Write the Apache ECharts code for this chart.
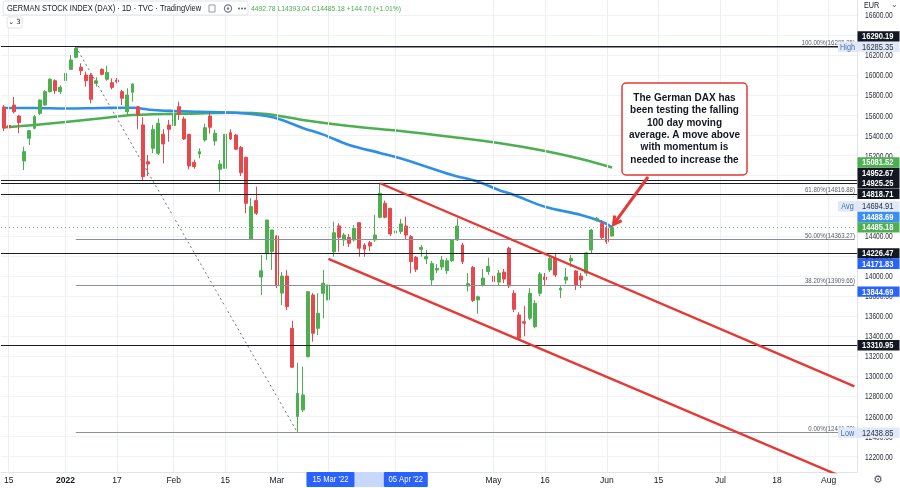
<!DOCTYPE html>
<html><head><meta charset="utf-8">
<script src="https://cdn.jsdelivr.net/npm/echarts@6/dist/echarts.min.js"></script>
<style>html,body{margin:0;padding:0;background:#fff}#c{width:900px;height:488px}</style>
</head><body><div id="c"></div>
<script>
// ---------------- DATA ----------------
const pastDates = [
'2021-12-14','2021-12-15','2021-12-16','2021-12-17','2021-12-20','2021-12-21','2021-12-22','2021-12-23','2021-12-27','2021-12-28','2021-12-29','2021-12-30',
'2022-01-03','2022-01-04','2022-01-05','2022-01-06','2022-01-07','2022-01-10','2022-01-11','2022-01-12','2022-01-13','2022-01-14','2022-01-17','2022-01-18','2022-01-19','2022-01-20','2022-01-21','2022-01-24','2022-01-25','2022-01-26','2022-01-27','2022-01-28','2022-01-31',
'2022-02-01','2022-02-02','2022-02-03','2022-02-04','2022-02-07','2022-02-08','2022-02-09','2022-02-10','2022-02-11','2022-02-14','2022-02-15','2022-02-16','2022-02-17','2022-02-18','2022-02-21','2022-02-22','2022-02-23','2022-02-24','2022-02-25','2022-02-28',
'2022-03-01','2022-03-02','2022-03-03','2022-03-04','2022-03-07','2022-03-08','2022-03-09','2022-03-10','2022-03-11','2022-03-14','2022-03-15','2022-03-16','2022-03-17','2022-03-18','2022-03-21','2022-03-22','2022-03-23','2022-03-24','2022-03-25','2022-03-28','2022-03-29','2022-03-30','2022-03-31',
'2022-04-01','2022-04-04','2022-04-05','2022-04-06','2022-04-07','2022-04-08','2022-04-11','2022-04-12','2022-04-13','2022-04-14','2022-04-19','2022-04-20','2022-04-21','2022-04-22','2022-04-25','2022-04-26','2022-04-27','2022-04-28','2022-04-29',
'2022-05-02','2022-05-03','2022-05-04','2022-05-05','2022-05-06','2022-05-09','2022-05-10','2022-05-11','2022-05-12','2022-05-13','2022-05-16','2022-05-17','2022-05-18','2022-05-19','2022-05-20','2022-05-23','2022-05-24','2022-05-25','2022-05-26','2022-05-27','2022-05-30','2022-05-31',
'2022-06-01','2022-06-02'];

// [open, high, low, close]
const candles = [
[15685,15705,15445,15475],[15500,15530,15455,15478],[15705,15785,15620,15638],[15595,15605,15425,15530],[15147,15290,15057,15240],[15373,15456,15306,15449],[15473,15605,15463,15589],[15622,15760,15605,15755],[15705,15855,15700,15838],[15838,15975,15830,15961],[15947,15961,15815,15848],[15838,15900,15815,15882],
[15947,16037,15945,16021],[16061,16203,16054,16154],[16180,16285.35,16170,16270],[16081,16120,16004,16047],[16004,16037,15887,15947],[16004,16021,15722,15762],[15921,15981,15888,15947],[16061,16070,16001,16011],[15961,16094,15947,16031],[15927,15971,15862,15881],[15954,15975,15920,15937],[15838,15855,15705,15772],[15638,15872,15605,15805],[15832,15921,15738,15914],[15688,15695,15463,15605],[15506,15582,14958,14990],[15140,15207,14997,15117],[15273,15506,15224,15462],[15224,15572,15207,15523],[15413,15463,15124,15316],[15506,15556,15339,15463],
[15500,15650,15480,15619],[15688,15738,15556,15615],[15565,15589,15356,15366],[15413,15416,15064,15097],[15134,15160,15070,15090],[15217,15273,15174,15240],[15356,15520,15339,15479],[15595,15620,15420,15483],[15346,15460,15300,15423],[15064,15157,14841,15117],[15074,15423,15057,15413],[15429,15463,15356,15366],[15406,15416,15257,15264],[15283,15297,14997,15030],[15184,15190,14626,14725],[14366,14778,14360,14692],[14752,14891,14609,14626],[13990,14210,13810,14052],[14227,14559,14160,14559],[14245,14459,14061,14459],
[14400,14410,13880,13901],[13830,14040,13710,14000],[14000,14060,13660,13695],[13479,13555,13085,13091],[12599,13137,12438.85,12832],[12665,13097,12645,12815],[13196,13848,13190,13844],[13811,13830,13346,13430],[13479,13828,13413,13629],[13828,14061,13579,13928],[13762,13960,13579,13911],[14243,14542,14193,14432],[14500,14526,14243,14385],[14360,14430,14300,14409],[14385,14420,14290,14326],[14360,14509,14343,14476],[14532,14532,14193,14277],[14310,14327,14193,14267],[14333,14350,14250,14300],[14360,14609,14340,14409],[14586,14925.25,14576,14825],[14725,14752,14576,14586],[14675,14680,14400,14420],
[14430,14530,14370,14450],[14445,14570,14420,14520],[14499,14592,14360,14409],[14393,14410,14027,14143],[14187,14200,14040,14067],[14266,14310,14193,14286],[14170,14260,14120,14193],[13961,14150,13910,14124],[14060,14120,14030,14076],[14090,14200,14060,14160],[14054,14180,14020,14153],[14153,14370,14140,14360],[14360,14576,14350,14499],[14310,14330,14120,14143],[13900,14030,13845,13924],[14087,14100,13740,13757],[13762,13805,13625,13793],[13911,14070,13895,13980],[14045,14183,14011,14095],
[14000,14011,13780,13945],[13940,14060,13900,14030],[14040,14070,13930,13970],[14277,14293,13880,13901],[13828,13860,13640,13669],[13612,13640,13360,13380],[13545,13700,13400,13530],[13580,13880,13560,13828],[13495,13760,13480,13729],[13828,14040,13800,14020],[13990,14030,13900,13964],[14061,14200,14040,14177],[14177,14220,13990,14011],[13861,13900,13780,13878],[13960,14080,13920,13990],[14150,14210,14090,14177],[14050,14060,13861,13911],[14000,14030,13880,13960],[14030,14240,14000,14231],[14260,14470,14230,14459],[14560,14590,14545,14575],[14526,14560,14370,14385],
[14480,14500,14320,14343],[14400,14492.78,14393.04,14485.18]];

const ma100Points = [['2021-12-14',15675],['2021-12-22',15675],['2022-01-03',15670],['2022-01-12',15675],['2022-01-20',15678],['2022-01-26',15655],['2022-02-01',15645],['2022-02-08',15638],['2022-02-17',15628],['2022-02-25',15595],['2022-03-02',15556],['2022-03-08',15476],['2022-03-14',15410],['2022-03-21',15306],['2022-03-29',15227],['2022-04-05',15157],['2022-04-20',15007],['2022-04-27',14941],['2022-05-03',14858],['2022-05-06',14808],['2022-05-16',14691],['2022-05-25',14609],['2022-05-31',14542],['2022-06-02',14488.69]];
const ma200Points = [['2021-12-14',15483],['2021-12-22',15506],['2022-01-12',15573],['2022-01-20',15605],['2022-02-08',15622],['2022-02-17',15628],['2022-02-25',15615],['2022-03-08',15556],['2022-03-21',15496],['2022-04-04',15446],['2022-04-20',15386],['2022-05-03',15326],['2022-05-16',15247],['2022-05-25',15167],['2022-06-02',15081.52]];

const horizontalLevels = [16290.19, 14952.67, 14925.25, 14818.71, 14226.47, 13310.95];
const fibStartDate = '2022-01-05';
const fibLevels = [['100.00%',16285.35],['61.80%',14816.88],['50.00%',14363.27],['38.20%',13909.66],['0.00%',12441.20]];
const fibTrend = [['2022-01-05',16285.35],['2022-03-07',12441.20]];
const upperChannel = [['2022-03-29',14925.25],['2022-08-08',12900]];
const lowerChannel = [['2022-03-15',14171.83],['2022-04-05',13844.69],['2022-08-08',11947]];
const lastPrice = 14485.18;
const arrowTarget = ['2022-06-02',14515];

const priceTicks = [12200,12400,12600,12800,13000,13200,13400,13600,13800,14000,14200,14400,14600,14800,15000,15200,15400,15600,15800,16000,16200,16400,16600];
const timeTicks = {'2021-12-15':'15','2022-01-03':'2022','2022-01-17':'17','2022-02-01':'Feb','2022-02-15':'15','2022-03-01':'Mar','2022-05-02':'May','2022-05-16':'16','2022-06-01':'Jun','2022-06-15':'15','2022-07-01':'Jul','2022-07-18':'18','2022-08-01':'Aug'};
const selectedTicks = [['2022-03-15',"15 Mar '22"],['2022-04-05',"05 Apr '22"]];
const gridDates = ['2021-12-15','2022-01-03','2022-01-17','2022-02-01','2022-02-15','2022-03-01','2022-03-15','2022-04-01','2022-05-02','2022-05-16','2022-06-01','2022-06-15','2022-07-01','2022-07-18','2022-08-01'];

// price-scale tags, in drawing priority order: [value, text, kind, side label]
const priceTags = [
 [14485.18,'14485.18','last',''],
 [16285.35,'16285.35','light','High'],
 [12438.85,'12438.85','light','Low'],
 [14694.91,'14694.91','light','Avg'],
 [14925.25,'14925.25','black',''],
 [14818.71,'14818.71','black',''],
 [14226.47,'14226.47','black',''],
 [13310.95,'13310.95','black',''],
 [16290.19,'16290.19','black',''],
 [14952.67,'14952.67','black',''],
 [15081.52,'15081.52','ma200',''],
 [14488.69,'14488.69','ma100',''],
 [14171.83,'14171.83','anchor',''],
 [13844.69,'13844.69','anchor','']];

const titleText = 'GERMAN STOCK INDEX (DAX) · 1D · TVC · TradingView';
const ohlcText = '4492.78 L14393.04 C14485.18 +144.70 (+1.01%)';
const noteLines = ['The German DAX has','been testing the falling','100 day moving','average. A move above','with momentum is','needed to increase the'];

// ---------------- BUILD ----------------
const futureDates = (function(){const out=[];const d=new Date(Date.UTC(2022,5,3));const end=Date.UTC(2022,7,8);
  while(d.getTime()<=end){const w=d.getUTCDay();if(w>0&&w<6)out.push(d.toISOString().slice(0,10));d.setUTCDate(d.getUTCDate()+1);}return out;})();
const allDates = pastDates.concat(futureDates);
const ix = d => allDates.indexOf(d);
const FONT = "'Liberation Sans',Arial,sans-serif";
const UP='#4caf50', DOWN='#e5484d', RED='#e53935';
const Y_MIN=12047, Y_MAX=16751.6;

const candleData = candles.map(c=>[c[0],c[3],c[2],c[1]]);
const toPts = arr => arr.map(p=>[ix(p[0]),p[1]]);
const lastIdx = allDates.length-1;

const chart = echarts.init(document.getElementById('c'), null, {renderer:'canvas'});
const option = {
  animation:false,
  backgroundColor:'#ffffff',
  grid:{left:1,right:43,top:0,bottom:16,containLabel:false},
  xAxis:{type:'category',data:allDates,boundaryGap:true,
    axisLine:{show:true,lineStyle:{color:'#e0e3eb'}},axisTick:{show:false},
    axisLabel:{interval:(i,v)=>Object.prototype.hasOwnProperty.call(timeTicks,v),
      formatter:v=>v==='2022-01-03'?'{b|'+timeTicks[v]+'}':(timeTicks[v]||''),
      color:'#131722',fontSize:8.5,fontFamily:FONT,margin:4,
      rich:{b:{fontWeight:'bold',fontSize:8.5,fontFamily:FONT,color:'#131722'}}},
    splitLine:{show:false}},
  yAxis:{type:'value',position:'right',min:Y_MIN,max:Y_MAX,scale:true,
    axisLine:{show:true,lineStyle:{color:'#e0e3eb'}},
    axisTick:{show:false,customValues:priceTicks},
    axisLabel:{show:false,customValues:priceTicks},
    splitLine:{show:true,lineStyle:{color:'#f0f2f5',width:1}}},
  series:[
    {type:'line',data:[],silent:true,z:0,
      markLine:{silent:true,symbol:['none','none'],label:{show:false},animation:false,
        lineStyle:{color:'#eceef2',width:1,type:'solid'},
        data:gridDates.map(d=>({xAxis:ix(d)}))}},
    {name:'MA200',type:'line',data:toPts(ma200Points),smooth:0.35,showSymbol:false,symbol:'none',z:1,silent:true,
      lineStyle:{color:'#4caf50',width:2.6}},
    {name:'MA100',type:'line',data:toPts(ma100Points),smooth:0.35,showSymbol:false,symbol:'none',z:1,silent:true,
      lineStyle:{color:'#2f8fe6',width:2.6}},
    {name:'DAX',type:'candlestick',data:candleData,barWidth:3.4,z:2,
      itemStyle:{color:UP,color0:DOWN,borderColor:UP,borderColor0:DOWN,borderWidth:1},
      markLine:{silent:true,symbol:['none','none'],label:{show:false},animation:false,
        data:[{yAxis:lastPrice,lineStyle:{color:'#9aa0a6',type:[1,3],width:1}}]}},
    {type:'line',data:[],silent:true,z:3,
      markLine:{silent:true,symbol:['none','none'],animation:false,label:{show:false},
        lineStyle:{color:'#8c9099',width:1,type:'solid'},
        data:fibLevels.map(f=>[{coord:[ix(fibStartDate),f[1]]},{coord:[lastIdx,f[1]]}])}},
    {type:'line',data:[],silent:true,z:4,
      markLine:{silent:true,symbol:['none','none'],label:{show:false},animation:false,
        lineStyle:{color:'#1b1d22',width:1.2,type:'solid'},
        data:horizontalLevels.map(v=>({yAxis:v}))}},
    {type:'line',data:toPts(fibTrend),showSymbol:false,symbol:'none',silent:true,z:4,
      lineStyle:{color:'#6f737c',width:1,type:[2,3]}},
    {type:'line',data:toPts(upperChannel),showSymbol:false,symbol:'none',silent:true,z:5,
      lineStyle:{color:RED,width:2.4}},
    {type:'line',silent:true,z:6,showSymbol:true,symbol:'none',clip:true,
      data:lowerChannel.map((p,i)=>i<2?{value:[ix(p[0]),p[1]],symbol:'circle',symbolSize:7,
        itemStyle:{color:'#ffffff',borderColor:'#2962ff',borderWidth:1.5}}:{value:[ix(p[0]),p[1]],symbol:'none'}),
      lineStyle:{color:RED,width:2.4}}
  ]
};
chart.setOption(option);

// ---------------- OVERLAYS ----------------
const g = [];
const yPix = v => chart.convertToPixel({yAxisIndex:0},v);
// price scale labels (narrow TradingView style)
priceTicks.forEach(v=>{
  g.push({type:'text',x:865,y:yPix(v)+0.5,scaleX:0.74,style:{text:v.toFixed(2),fontSize:9,fontFamily:FONT,fill:'#2a2e39',verticalAlign:'middle'},z:50});
});
// fib level labels
fibLevels.forEach(f=>{
  g.push({type:'text',x:855,y:yPix(f[1])-4,scaleX:0.76,style:{text:f[0]+'('+f[1].toFixed(2)+')',fontSize:8,fontFamily:FONT,fill:'#555b66',align:'right',verticalAlign:'middle'},z:40});
});
// price tags
const TAG_H=10.4;
const tags = priceTags.map(t=>({v:t[0],text:t[1],kind:t[2],side:t[3],y0:yPix(t[0])}));
const placed=[];
tags.forEach(t=>{let y=t.y0,guard=0,moved=true;
  while(moved&&guard<30){moved=false;guard++;
    for(const p of placed){if(Math.abs(y-p.y)<TAG_H-0.01){y=(t.y0<p.y)?p.y-TAG_H:p.y+TAG_H;moved=true;}}}
  t.y=y;placed.push(t);});
const tagStyle={last:['#4caf50','#ffffff'],light:['#dfe9f9','#2b2f36'],black:['#131722','#ffffff'],ma200:['#4caf50','#ffffff'],ma100:['#3a8ff0','#ffffff'],anchor:['#2962ff','#ffffff']};
g.push({type:'rect',shape:{x:858,y:0,width:42,height:11},style:{fill:'#ffffff'},z:90});
g.push({type:'text',x:864,y:6,scaleX:0.85,style:{text:'EUR',fontSize:8.5,fontFamily:FONT,fill:'#131722',verticalAlign:'middle'},z:91});
g.push({type:'text',x:891,y:5,style:{text:'⌄',fontSize:8,fontFamily:'DejaVu Sans',fill:'#555',verticalAlign:'middle'},z:91});
tags.forEach(t=>{const s=tagStyle[t.kind];
  g.push({type:'rect',shape:{x:857.5,y:t.y-TAG_H/2,width:42,height:TAG_H},style:{fill:s[0]},z:95});
  g.push({type:'text',x:862,y:t.y+0.5,scaleX:0.84,style:{text:t.text,fontSize:9,fontWeight:t.kind==='light'?'normal':'bold',fontFamily:FONT,fill:s[1],verticalAlign:'middle'},z:96});
  if(t.side){
    g.push({type:'rect',shape:{x:838,y:t.y-TAG_H/2,width:19,height:TAG_H},style:{fill:'#dfe9f9'},z:95});
    g.push({type:'text',x:847.5,y:t.y+0.5,scaleX:0.85,style:{text:t.side,fontSize:8.5,fontFamily:FONT,fill:'#4a6fa5',align:'center',verticalAlign:'middle'},z:96});
  }
});
// selected date range on the time scale
const xs = selectedTicks.map(s=>chart.convertToPixel({xAxisIndex:0},ix(s[0])));
g.push({type:'rect',shape:{x:xs[0]+24,y:472,width:(xs[1]-22)-(xs[0]+24),height:15},style:{fill:'#c8d7fc'},z:80});
selectedTicks.forEach((s,i)=>{const w=i===0?48:44;
  g.push({type:'rect',shape:{x:xs[i]-w/2+(i===0?2:0),y:472,width:w,height:15,r:1},style:{fill:'#2962ff'},z:81});
  g.push({type:'text',x:xs[i]+(i===0?2:0),y:480,scaleX:0.9,style:{text:s[1],fontSize:8.5,fontFamily:FONT,fill:'#ffffff',align:'center',verticalAlign:'middle'},z:82});
});
g.push({type:'text',x:878,y:480,style:{text:'⚙',fontSize:11,fontFamily:'DejaVu Sans',fill:'#50535e',align:'center',verticalAlign:'middle'},z:82});
// legend header
g.push({type:'rect',shape:{x:3,y:1,width:245,height:14,r:2},style:{fill:'#ffffff',stroke:'#e0e3eb',lineWidth:1},z:85});
g.push({type:'text',x:7,y:8.5,scaleX:0.79,style:{text:titleText,fontSize:9.5,fontFamily:FONT,fill:'#131722',verticalAlign:'middle'},z:86});
g.push({type:'rect',shape:{x:209,y:5,width:6,height:7},style:{fill:'none',stroke:'#9598a1',lineWidth:1},z:86});
g.push({type:'circle',shape:{cx:228,cy:8.5,r:3.6},style:{fill:'none',stroke:'#787b86',lineWidth:1.2},z:86});
g.push({type:'circle',shape:{cx:228,cy:8.5,r:1.2},style:{fill:'#787b86'},z:86});
[239,242,245].forEach(x=>g.push({type:'circle',shape:{cx:x,cy:8.5,r:0.9},style:{fill:'#50535e'},z:86}));
g.push({type:'text',x:251,y:8.5,scaleX:0.85,style:{text:ohlcText,fontSize:8,fontFamily:FONT,fill:'#4caf50',verticalAlign:'middle'},z:86});
g.push({type:'rect',shape:{x:7,y:17,width:15,height:11,r:2},style:{fill:'#ffffff',stroke:'#e0e3eb',lineWidth:1},z:85});
g.push({type:'text',x:14.5,y:22.5,style:{text:'⌄ 3',fontSize:7,fontFamily:'DejaVu Sans',fill:'#131722',align:'center',verticalAlign:'middle'},z:86});
// note box and arrow
g.push({type:'rect',shape:{x:622,y:83,width:125,height:92,r:4},style:{fill:'#ffffff',stroke:RED,lineWidth:1.5},z:88});
g.push({type:'text',x:684.5,y:129,style:{text:noteLines.join('\n'),fontSize:10,fontWeight:'bold',fontFamily:FONT,fill:'#131722',align:'center',verticalAlign:'middle',lineHeight:12.4},z:89});
const tip = chart.convertToPixel({xAxisIndex:0,yAxisIndex:0},[ix(arrowTarget[0]),arrowTarget[1]]);
const S=[648,177]; const T=[tip[0]+1.5,tip[1]];
const dx=T[0]-S[0], dy=T[1]-S[1], L=Math.hypot(dx,dy), ux=dx/L, uy=dy/L;
const arm=(a)=>{const c=Math.cos(a),s=Math.sin(a);return [T[0]-9*(ux*c-uy*s),T[1]-9*(ux*s+uy*c)];};
g.push({type:'line',shape:{x1:S[0],y1:S[1],x2:T[0]-ux*1.5,y2:T[1]-uy*1.5},style:{stroke:RED,lineWidth:3},z:88});
g.push({type:'polyline',shape:{points:[arm(0.5),T,arm(-0.5)]},style:{stroke:RED,lineWidth:3,fill:'none',lineJoin:'miter'},z:88});
chart.setOption({graphic:{elements:g}});
</script></body></html>
